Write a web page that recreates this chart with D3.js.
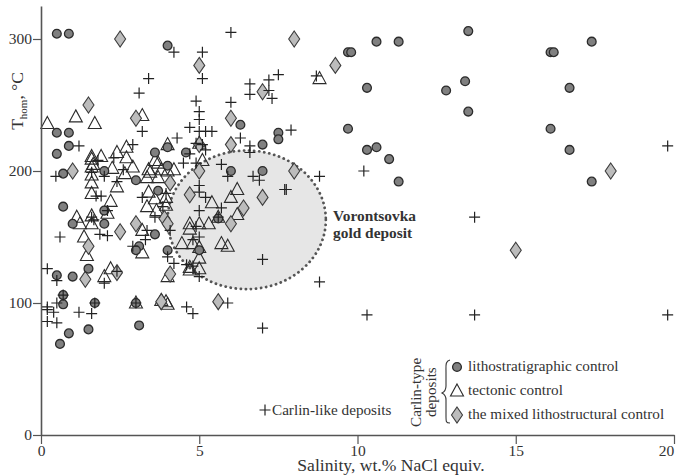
<!DOCTYPE html>
<html>
<head>
<meta charset="utf-8">
<script src="https://cdn.jsdelivr.net/npm/d3@7/dist/d3.min.js"></script>
<style>
  body { margin: 0; background: #fff; }
  text { font-family: "Liberation Serif", serif; fill: #333; }
</style>
</head>
<body>
<div id="chart"></div>
<script>
// [salinity, temperature]
var circleData = [
  [0.5,304],[0.88,304],[4.0,295],[0.5,229],[0.88,229],[0.88,219],[0.5,213],[0.7,198],
  [2.0,200],[3.6,214],[4.0,218],[4.58,214],[4.0,204],[3.0,193],[3.7,185],[6.3,235],
  [7.5,229],[7.5,224],[7.0,220],[7.0,200],[6.0,200],[0.7,173],[2.0,170],[2.0,160],
  [1.0,160],[3.6,152],[3.1,143],[3.0,140],[4.0,140],[5.0,140],[5.6,164],[1.5,126],
  [0.5,121],[1.0,120],[0.7,106],[0.7,99],[1.7,100],[3.0,100],[1.5,80],[0.88,77],
  [0.6,69],[3.1,83],[9.7,290],[9.8,290],[10.6,298],[11.3,298],[13.5,306],[16.1,290],
  [16.2,290],[17.4,298],[10.3,263],[13.4,268],[12.8,261],[13.5,245],[16.7,263],
  [9.7,232],[16.1,232],[10.3,216],[10.6,218],[11.0,209],[11.3,192],[16.7,216],[17.4,192]
];
var triangleData = [
  [0.2,236],[1.1,241],[1.7,236],[3.2,242],[8.8,270],[1.6,211],[1.6,209],[1.65,205],
  [1.9,211],[2.4,214],[2.7,218],[2.7,210],[1.6,203],[1.6,197],[1.6,191],[1.6,183],
  [2.4,188],[2.2,177],[2.9,203],[2.65,198],[3.4,201],[3.35,195],[3.7,195],[4.0,200],
  [4.2,201],[3.6,208],[3.7,206],[4.0,220],[3.4,184],[3.6,179],[3.95,180],[3.35,173],
  [3.95,174],[3.65,170],[1.13,165],[1.23,160],[1.6,166],[1.6,160],[2.1,168],[1.36,150],
  [1.45,136],[3.2,155],[3.2,138],[5.1,208],[5.0,221],[2.25,202],[3.45,199],[3.8,201],
  [6.2,186],[6.0,180],[5.4,176],[6.2,167],[5.0,160],[5.3,160],[4.7,160],[4.7,156],
  [4.45,145],[4.8,145],[5.7,145],[5.9,143],[5.0,142],[5.0,134],[5.0,126],[4.7,125],
  [4.0,120],[3.8,102],[3.95,101],[5.6,165],[2.0,120],[2.2,126],[4.7,127],[3.0,100],[4.0,99]
];
var diamondData = [
  [2.5,300],[8.0,300],[9.3,280],[5.0,280],[1.5,250],[3.0,240],[6.0,240],[7.0,260],
  [6.0,220],[5.0,220],[5.0,200],[8.0,200],[1.0,200],[4.08,191],[4.7,182],[3.0,160],
  [3.9,164],[4.0,160],[2.5,154],[1.5,143],[7.0,180],[6.4,172],[6.0,160],[4.08,122],
  [1.4,118],[2.4,123],[3.8,101],[5.6,101],[18.0,200],[15.0,140]
];
var crossData = [
  [6.0,305],[4.2,290],[5.1,290],[5.1,270],[3.4,270],[3.1,259],[6.6,266],[6.6,258],
  [7.2,269],[7.5,273],[7.2,261],[7.3,255],[8.7,272],[6.0,252],[4.9,253],[5.0,245],
  [5.0,239],[3.2,230],[4.7,233],[5.0,230],[5.2,230],[5.4,230],[4.3,225],[4.9,221],
  [5.1,220],[5.2,216],[6.3,225],[6.6,219],[6.6,214],[7.9,231],[1.2,219],[2.9,220],
  [2.3,210],[1.8,208],[1.6,199],[4.7,213],[4.5,206],[4.9,206],[5.7,205],[0.47,196],
  [2.0,196],[2.6,201],[5.9,196],[6.7,196],[8.8,196],[2.4,192],[1.74,181],[1.9,181],
  [3.2,180],[3.95,183],[3.85,173],[3.6,165],[1.6,165],[1.67,163],[2.1,170],[1.86,152],
  [2.1,151],[3.35,155],[3.3,148],[2.9,143],[0.6,150],[4.0,135],[4.08,155],[6.9,193],
  [7.7,186],[7.75,186],[5.0,189],[5.0,184],[5.2,180],[5.7,172],[5.0,170],[5.6,165],
  [5.0,150],[4.8,148],[4.9,158],[4.2,130],[4.6,129],[4.8,128],[5.0,120],[7.0,133],
  [8.8,116],[0.2,126],[0.5,117],[2.0,115],[2.4,124],[0.5,100],[0.7,106],[0.2,97],
  [0.2,95],[0.4,93],[1.2,93],[1.6,92],[1.7,100],[0.2,86],[0.5,85],[3.0,100],[4.6,97],
  [4.8,92],[5.9,100],[7.0,81],[10.3,91],[13.7,91],[19.8,91],[13.7,165],[10.2,200],[19.8,219]
];
var xTicks = [0, 5, 10, 15, 20];
var yTicks = [0, 100, 200, 300];
var legendItems = ["lithostratigraphic control", "tectonic control", "the mixed lithostructural control"];

var axisColor = "#555";
var markStroke = "#2b2b2b";

var svg = d3.select("#chart")
  .append("svg")
  .attr("width", 678)
  .attr("height", 476);

// Set the x and y scales
var xScale = d3.scaleLinear().domain([0, 20]).range([41, 674]);
var yScale = d3.scaleLinear().domain([0, 325]).range([435, 6]);

// Deposit outline goes under everything
svg.append("ellipse")
  .attr("cx", xScale(6.5))
  .attr("cy", yScale(163))
  .attr("rx", xScale(2.5) - xScale(0))
  .attr("ry", yScale(0) - yScale(52.5))
  .attr("fill", "#e6e6e6")
  .attr("stroke", "#555")
  .attr("stroke-width", 2.8)
  .attr("stroke-linecap", "round")
  .attr("stroke-dasharray", "0.1 5");

// Marker shapes, around 0,0
var trianglePath = "M0,-7 L6.5,5 L-6.5,5 Z";
var diamondPath = "M0,-8 L5.5,0 L0,8 L-5.5,0 Z";
var crossPath = "M-5.5,0 H5.5 M0,-5.5 V5.5";

function place(d) {
  return "translate(" + xScale(d[0]) + "," + yScale(d[1]) + ")";
}

svg.append("g").selectAll("path")
  .data(triangleData)
  .enter().append("path")
  .attr("d", trianglePath)
  .attr("transform", place)
  .attr("fill", "none")
  .attr("stroke", markStroke)
  .attr("stroke-width", 1.1);

svg.append("g").selectAll("path")
  .data(diamondData)
  .enter().append("path")
  .attr("d", diamondPath)
  .attr("transform", place)
  .attr("fill", "#bcbcbc")
  .attr("stroke", "#3c3c3c")
  .attr("stroke-width", 1.1);

svg.append("g").selectAll("circle")
  .data(circleData)
  .enter().append("circle")
  .attr("r", 4.4)
  .attr("transform", place)
  .attr("fill", "#808080")
  .attr("stroke", markStroke)
  .attr("stroke-width", 1.3);

svg.append("g").selectAll("path")
  .data(crossData)
  .enter().append("path")
  .attr("d", crossPath)
  .attr("transform", place)
  .attr("fill", "none")
  .attr("stroke", "#222")
  .attr("stroke-width", 1.2);

// Axes
var xAxis = svg.append("g")
  .attr("transform", "translate(0,435)")
  .call(d3.axisBottom(xScale).tickValues(xTicks).tickSize(9).tickPadding(1).tickSizeOuter(0));
var yAxis = svg.append("g")
  .attr("transform", "translate(41,0)")
  .call(d3.axisLeft(yScale).tickValues(yTicks).tickSize(8).tickPadding(1).tickSizeOuter(0));

xAxis.selectAll("text").style("font-size", "15.5px").attr("font-family", null);
yAxis.selectAll("text").style("font-size", "15.5px").attr("font-family", null);
// last label sits inside the edge
xAxis.selectAll("text").filter(function(d) { return d === 20; }).attr("dx", -8);
svg.selectAll(".domain").attr("stroke", axisColor).attr("stroke-width", 1.6);
svg.selectAll(".tick line").attr("stroke", axisColor).attr("stroke-width", 1.2);

svg.append("text")
  .attr("x", 391)
  .attr("y", 471)
  .style("text-anchor", "middle")
  .style("font-size", "17.6px")
  .text("Salinity, wt.% NaCl equiv.");

var yLabel = svg.append("text")
  .attr("transform", "translate(23,101) rotate(-90)")
  .style("text-anchor", "middle")
  .style("font-size", "17.5px");
yLabel.append("tspan").text("T");
yLabel.append("tspan").attr("dy", 4).style("font-size", "11px").text("hom");
yLabel.append("tspan").attr("dy", -4).text(", °C");

// Deposit name
svg.append("text")
  .attr("x", 333)
  .attr("y", 221)
  .style("font-size", "15.4px")
  .style("font-weight", "bold")
  .text("Vorontsovka");
svg.append("text")
  .attr("x", 333)
  .attr("y", 238)
  .style("font-size", "15.4px")
  .style("font-weight", "bold")
  .text("gold deposit");

// Legend
svg.append("path")
  .attr("d", crossPath)
  .attr("transform", "translate(265,410)")
  .attr("fill", "none")
  .attr("stroke", "#222")
  .attr("stroke-width", 1.2);
svg.append("text")
  .attr("x", 272)
  .attr("y", 415)
  .style("font-size", "15.2px")
  .text("Carlin-like deposits");

svg.append("text")
  .attr("transform", "translate(421,427) rotate(-90)")
  .style("font-size", "15.2px")
  .text("Carlin-type");
svg.append("text")
  .attr("transform", "translate(436,417) rotate(-90)")
  .style("font-size", "15.2px")
  .text("deposits");

// Brace
svg.append("path")
  .attr("d", "M450,360 C445,361 446,366 446,372 L446,386 C446,390 444,392 442,393 C444,394 446,396 446,400 L446,416 C446,422 446,423 450,423")
  .attr("fill", "none")
  .attr("stroke", "#333")
  .attr("stroke-width", 1.1);

var legendShapes = [null, trianglePath, diamondPath];
var legendRows = svg.selectAll(".legend")
  .data(legendItems)
  .enter().append("g")
  .attr("class", "legend")
  .attr("transform", function(d, i) { return "translate(457," + (367 + i * 24) + ")"; });

legendRows.each(function(d, i) {
  var row = d3.select(this);
  if (i === 0) {
    row.append("circle").attr("r", 4.4).attr("fill", "#808080").attr("stroke", markStroke).attr("stroke-width", 1.3);
  } else {
    row.append("path")
      .attr("d", legendShapes[i])
      .attr("fill", i === 1 ? "#fff" : "#bcbcbc")
      .attr("stroke", i === 1 ? markStroke : "#3c3c3c")
      .attr("stroke-width", 1.1);
  }
  row.append("text")
    .attr("x", 11)
    .attr("y", 4)
    .style("font-size", "15.2px")
    .text(d);
});
</script>
</body>
</html>
